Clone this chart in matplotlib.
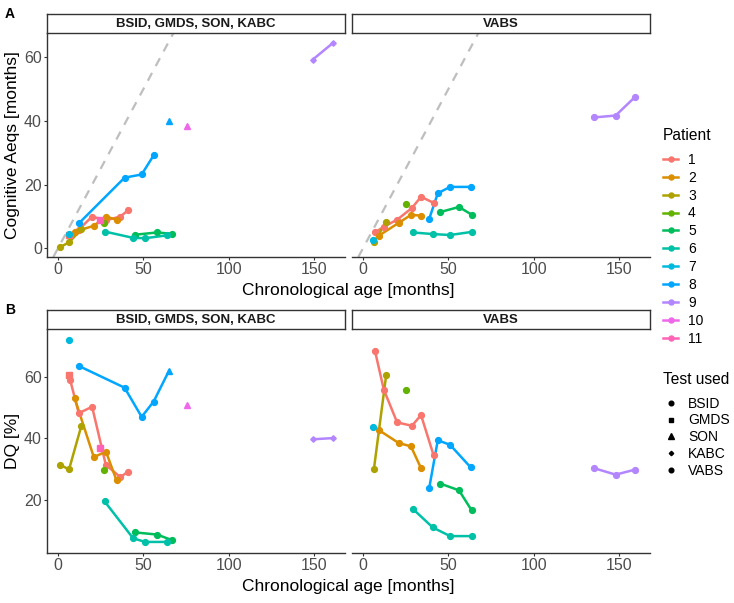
import matplotlib
matplotlib.use("Agg")
import matplotlib.pyplot as plt
from matplotlib.lines import Line2D

plt.rcParams['font.family'] = ['Liberation Sans', 'DejaVu Sans']

patients = ['1', '2', '3', '4', '5', '6', '7', '8', '9', '10', '11']
hue = ['#F8766D', '#DB8E00', '#AEA200', '#64B200', '#00BD5C', '#00C1A7',
       '#00BADE', '#00A6FF', '#B385FF', '#EF67EB', '#FF63B6']
tests = ['BSID', 'GMDS', 'SON', 'KABC', 'VABS']

# linke Facette: BSID, GMDS, SON, KABC
left_age = {
    '1': [6.7, 7.2, 12.2, 20, 28, 36.5, 41.2],
    '2': [9.7, 21, 28.1, 34.3],
    '3': [1.2, 6.5, 13.7],
    '4': [27.2],
    '5': [45.3, 58, 66.7],
    '6': [27.3, 44, 51, 64],
    '7': [6.2],
    '8': [12.5, 39, 49, 56, 65],
    '9': [149, 161],
    '10': [75.3],
    '11': [24.4],
}
left_test = {
    '1': ['GMDS', 'BSID', 'BSID', 'BSID', 'BSID', 'BSID', 'BSID'],
    '2': ['BSID'] * 4,
    '3': ['BSID'] * 3,
    '4': ['BSID'],
    '5': ['BSID'] * 3,
    '6': ['BSID'] * 4,
    '7': ['BSID'],
    '8': ['BSID', 'BSID', 'BSID', 'BSID', 'SON'],
    '9': ['KABC', 'KABC'],
    '10': ['SON'],
    '11': ['GMDS'],
}
left_aeq = {
    '1': [4.1, 4.2, 5.9, 10.0, 8.8, 10.0, 12.0],
    '2': [5.2, 7.1, 10.0, 9.0],
    '3': [0.4, 1.9, 6.0],
    '4': [8.0],
    '5': [4.3, 5.0, 4.6],
    '6': [5.3, 3.3, 3.2, 4.1],
    '7': [4.5],
    '8': [8.0, 22.2, 23.2, 29.2, 40.0],
    '9': [59.2, 64.5],
    '10': [38.4],
    '11': [9.0],
}
left_dq = {
    '1': [60.7, 58.9, 48.2, 50.3, 31.4, 27.4, 29.2],
    '2': [53.2, 33.9, 35.7, 26.3],
    '3': [31.4, 29.9, 44.1],
    '4': [29.7],
    '5': [9.4, 8.7, 6.9],
    '6': [19.5, 7.5, 6.3, 6.3],
    '7': [72.0],
    '8': [63.5, 56.5, 47.0, 52.0, 62.0],
    '9': [39.7, 40.1],
    '10': [50.8],
    '11': [37.0],
}

# rechte Facette: VABS
right_age = {
    '1': [7, 12.2, 20, 28.7, 34, 41.3],
    '2': [9.3, 20.9, 28.1, 34],
    '3': [6.4, 13.6],
    '4': [25],
    '5': [45.2, 56.2, 63.6],
    '6': [29.3, 40.9, 51, 64],
    '7': [6],
    '8': [38.8, 43.8, 51, 63],
    '9': [135.3, 147.9, 159],
}
right_aeq = {
    '1': [5.0, 6.8, 9.0, 12.7, 16.2, 14.3],
    '2': [4.0, 8.0, 10.5, 10.3],
    '3': [1.9, 8.3],
    '4': [13.9],
    '5': [11.4, 13.0, 10.6],
    '6': [5.0, 4.5, 4.2, 5.2],
    '7': [2.6],
    '8': [9.3, 17.3, 19.3, 19.3],
    '9': [41.1, 41.7, 47.4],
}
right_dq = {
    '1': [68.6, 55.9, 45.2, 44.1, 47.6, 34.6],
    '2': [42.7, 38.5, 37.4, 30.3],
    '3': [29.9, 60.6],
    '4': [55.7],
    '5': [25.3, 23.1, 16.6],
    '6': [17.0, 11.0, 8.2, 8.2],
    '7': [43.8],
    '8': [23.9, 39.4, 37.9, 30.6],
    '9': [30.3, 28.2, 29.8],
}

markers = {'BSID': 'o', 'GMDS': 's', 'SON': '^', 'KABC': 'D', 'VABS': 'o'}
msizes = {'BSID': 4.2, 'GMDS': 4.2, 'SON': 5.0, 'KABC': 2.8, 'VABS': 4.2}

W, H = 734, 603
fig = plt.figure(figsize=(7.34, 6.03), dpi=100)


def box(x0, y0, x1, y1):
    return [x0 / W, 1 - y1 / H, (x1 - x0) / W, (y1 - y0) / H]


def panel(rect, strip_rect, title, ylim, yticks, left, diag):
    ax = fig.add_axes(box(*rect))
    ax.set_xlim(-6.4, 168)
    ax.set_ylim(*ylim)
    ax.set_xticks([0, 50, 100, 150])
    ax.set_yticks(yticks)
    for s in ['top', 'right']:
        ax.spines[s].set_visible(False)
    for s in ['bottom', 'left']:
        ax.spines[s].set_color('#333333')
        ax.spines[s].set_linewidth(1.0)
    ax.tick_params(colors='#333333', labelcolor='#4D4D4D', labelsize=11.5,
                   length=2.5, width=0.8, pad=1.2)
    if not left:
        ax.spines['left'].set_visible(False)
        ax.tick_params(axis='y', left=False, labelleft=False)
    if diag:
        ax.axline((0, 0), slope=1, color='#BEBEBE', lw=1.6,
                  ls=(0, (4, 3.5)), zorder=1)
    sx = fig.add_axes(box(*strip_rect))
    sx.set_xticks([])
    sx.set_yticks([])
    sx.set_facecolor('white')
    for s in sx.spines.values():
        s.set_color('#333333')
        s.set_linewidth(1.0)
    sx.text(0.5, 0.45, title, ha='center', va='center', fontsize=9.5,
            fontweight='bold', color='#1A1A1A', transform=sx.transAxes)
    return ax


def draw(ax, ages, vals, tst, link_by_test):
    for p, col in zip(patients, hue):
        if p not in ages:
            continue
        xs, ys = ages[p], vals[p]
        tt = tst[p] if tst is not None else ['VABS'] * len(xs)
        if link_by_test:
            for t in tests:
                idx = [i for i in range(len(xs)) if tt[i] == t]
                if len(idx) > 1:
                    ax.plot([xs[i] for i in idx], [ys[i] for i in idx],
                            color=col, lw=1.8, zorder=2)
        elif len(xs) > 1:
            ax.plot(xs, ys, color=col, lw=1.8, zorder=2)
        for t in tests:
            idx = [i for i in range(len(xs)) if tt[i] == t]
            if idx:
                ax.plot([xs[i] for i in idx], [ys[i] for i in idx],
                        ls='none', marker=markers[t], ms=msizes[t],
                        color=col, mec=col, zorder=3)


strip1 = 'BSID, GMDS, SON, KABC'
strip2 = 'VABS'

a1 = panel((47, 33, 345, 257), (47, 14, 345, 33), strip1, (-2.7, 67.6),
           [0, 20, 40, 60], True, True)
a2 = panel((352, 33, 650, 257), (352, 14, 650, 33), strip2, (-2.7, 67.6),
           [0, 20, 40, 60], False, True)
b1 = panel((47, 329, 345, 553), (47, 310, 345, 329), strip1, (2.7, 75.6),
           [20, 40, 60], True, False)
b2 = panel((352, 329, 650, 553), (352, 310, 650, 329), strip2, (2.7, 75.6),
           [20, 40, 60], False, False)

draw(a1, left_age, left_aeq, left_test, True)
draw(a2, right_age, right_aeq, None, False)
draw(b1, left_age, left_dq, left_test, False)
draw(b2, right_age, right_dq, None, False)

fig.text(348 / W, 1 - 291 / H, 'Chronological age [months]', ha='center',
         va='center', fontsize=12.5)
fig.text(348 / W, 1 - 587 / H, 'Chronological age [months]', ha='center',
         va='center', fontsize=12.5)
fig.text(13 / W, 1 - 145 / H, 'Cognitive Aeqs [months]', ha='center',
         va='center', rotation=90, fontsize=12.5)
fig.text(13 / W, 1 - 441 / H, 'DQ [%]', ha='center', va='center',
         rotation=90, fontsize=12.5)
fig.text(5 / W, 1 - 14 / H, 'A', ha='left', va='center', fontsize=10,
         fontweight='bold')
fig.text(5 / W, 1 - 310 / H, 'B', ha='left', va='center', fontsize=10,
         fontweight='bold')

ph = [Line2D([], [], color=c, lw=1.8, marker='o', ms=3.6) for c in hue]
leg1 = fig.legend(ph, patients, title='Patient', loc='upper left',
                  bbox_to_anchor=(663 / W, 1 - 128 / H), frameon=False,
                  fontsize=10, title_fontsize=11.2, handlelength=1.1,
                  handletextpad=0.7, labelspacing=0.28, borderpad=0,
                  borderaxespad=0)
leg1._legend_box.align = 'left'
leg1._legend_box.sep = 7
th = [Line2D([], [], color='black', ls='none', marker=markers[t],
             ms=msizes[t] * 0.8) for t in tests]
leg2 = fig.legend(th, tests, title='Test used', loc='upper left',
                  bbox_to_anchor=(663 / W, 1 - 372 / H), frameon=False,
                  fontsize=10, title_fontsize=11.2, handlelength=1.1,
                  handletextpad=0.7, labelspacing=0.2, borderpad=0,
                  borderaxespad=0)
leg2._legend_box.align = 'left'
leg2._legend_box.sep = 7

fig.savefig('out.png', dpi=100)
